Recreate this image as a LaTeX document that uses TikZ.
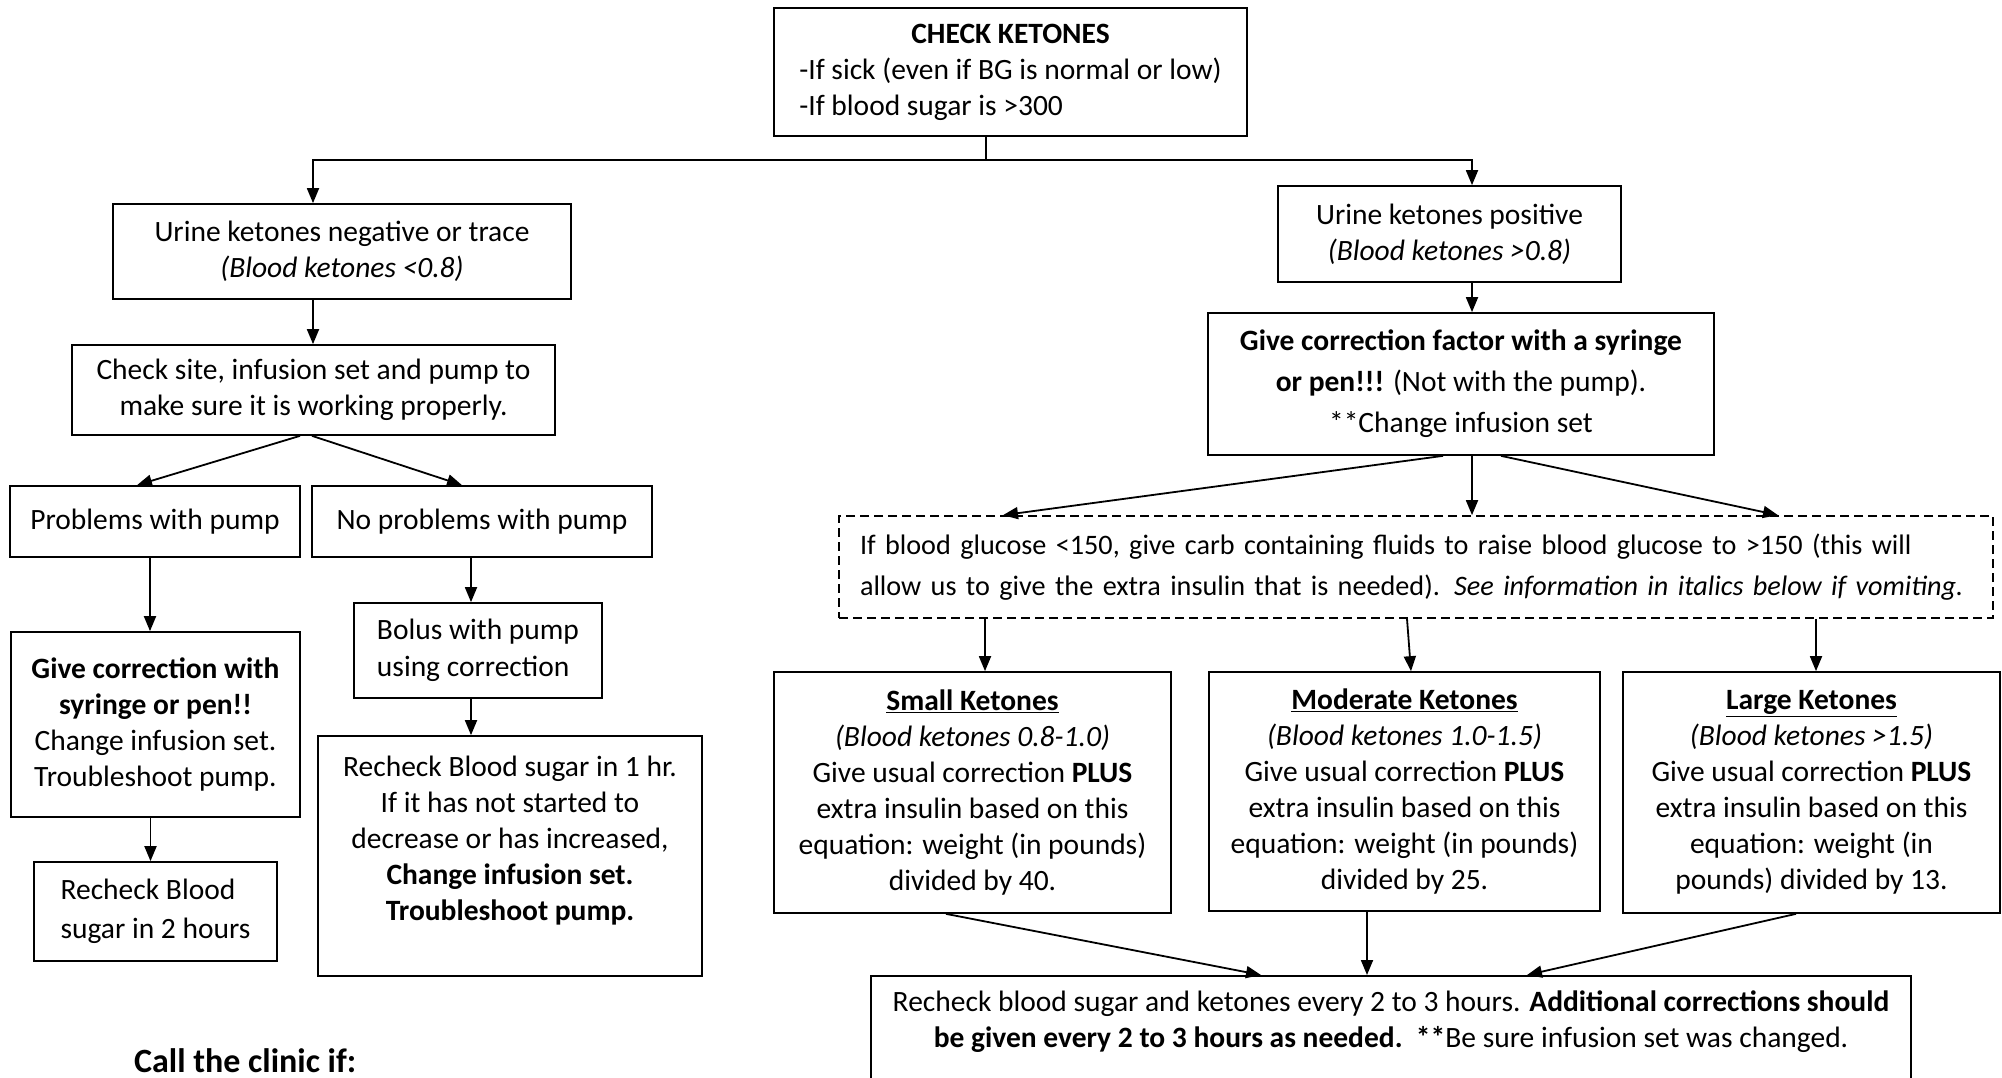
\documentclass[tikz,border=0pt]{standalone}
\usepackage{fontspec}
\setmainfont{Carlito}
\usetikzlibrary{arrows.meta}
\begin{document}
\begin{tikzpicture}[x=1pt,y=-1pt,
  box/.style={draw,line width=1.7pt,inner sep=0pt,align=center,
    font=\fontsize{29.5}{36}\selectfont},
  dbox/.style={box,dash pattern=on 9pt off 5pt},
  arr/.style={line width=1.8pt,-{Triangle[length=15pt,width=12pt]}},
  ln/.style={line width=1.8pt}]
\useasboundingbox (0,0) rectangle (2002,1077);
\clip (0,0) rectangle (2002,1077);

% left side
\node[box,minimum width=473pt,minimum height=128pt] (check) at (1010.5,72)
 {\begin{tabular}{@{}l@{}}\multicolumn{1}{@{}c@{}}{\textbf{CHECK KETONES}}\\-If sick (even if BG is normal or low)\\-If blood sugar is >300\end{tabular}};
\node[box,minimum width=458pt,minimum height=95pt] (urineneg) at (342,251.5)
 {Urine ketones negative or trace\\\textit{(Blood ketones <0.8)}};
\node[box,minimum width=483pt,minimum height=90pt] (checksite) at (313.5,390)
 {Check site, infusion set and pump to\\make sure it is working properly.};
\node[box,minimum width=290pt,minimum height=71pt] (probs) at (155,521.5) {Problems with pump};
\node[box,minimum width=340pt,minimum height=71pt] (noprobs) at (482,521.5) {No problems with pump};
\node[box,minimum width=289pt,minimum height=185pt] (givecorr) at (155.5,724.5)
 {\textbf{Give correction with}\\\textbf{syringe or pen!!}\\Change infusion set.\\Troubleshoot pump.};
\node[box,minimum width=243pt,minimum height=99pt,align=left,
  font=\fontsize{29.5}{39}\selectfont] (recheck2) at (155.5,911.5)
 {Recheck Blood\\sugar in 2 hours};
\node[box,minimum width=248pt,minimum height=95pt,align=left,
  font=\fontsize{29.5}{37}\selectfont] (bolus) at (478,650.5)
 {Bolus with pump\\using correction};
\node[box,minimum width=384pt,minimum height=240pt] (recheck1) at (510,856)
 {Recheck Blood sugar in 1 hr.\\If it has not started to\\decrease or has increased,\\\textbf{Change infusion set.}\\\textbf{Troubleshoot pump.}\\~};
\node[anchor=base west,inner sep=0pt,font=\fontsize{34}{40}\selectfont\bfseries] (clinic) at (134,1072)
 {Call the clinic if:};

% right side
\node[box,minimum width=343pt,minimum height=96pt] (urinepos) at (1449.5,234)
 {Urine ketones positive\\\textit{(Blood ketones >0.8)}};
\node[box,minimum width=506pt,minimum height=142pt,font=\fontsize{29.5}{41}\selectfont] (corrfactor) at (1461,384)
 {\textbf{Give correction factor with a syringe}\\\textbf{or pen!!!} (Not with the pump).\\**Change infusion set};
\node[dbox,minimum width=1154pt,minimum height=102pt,align=left,text width=1112pt,
  font=\fontsize{28.2}{41}\selectfont] (dashed) at (1416,567)
 {If blood glucose <150, give carb containing fluids to raise blood glucose to >150 (this will\\allow us to give the extra insulin that is needed). \textit{See information in italics below if vomiting.}};
\node[box,minimum width=397pt,minimum height=241pt] (small) at (972.5,792.5)
 {\underline{\textbf{Small Ketones}}\\\textit{(Blood ketones 0.8-1.0)}\\Give usual correction \textbf{PLUS}\\extra insulin based on this\\equation: weight (in pounds)\\divided by 40.};
\node[box,minimum width=391pt,minimum height=239pt] (moderate) at (1404.5,791.5)
 {\underline{\textbf{Moderate Ketones}}\\\textit{(Blood ketones 1.0-1.5)}\\Give usual correction \textbf{PLUS}\\extra insulin based on this\\equation: weight (in pounds)\\divided by 25.};
\node[box,minimum width=377pt,minimum height=241pt] (large) at (1811.5,792.5)
 {\underline{\textbf{Large Ketones}}\\\textit{(Blood ketones >1.5)}\\Give usual correction \textbf{PLUS}\\extra insulin based on this\\equation: weight (in\\pounds) divided by 13.};
\node[box,anchor=north,minimum width=1040pt,inner ysep=15pt] (bottom) at (1391,975)
 {Recheck blood sugar and ketones every 2 to 3 hours. \textbf{Additional corrections should}\\\textbf{be given every 2 to 3 hours as needed.\ \ **}Be sure infusion set was changed.\\~\\~};

% connectors
\coordinate (jl) at (313,160);
\coordinate (jr) at (1472,160);
\draw[arr] ([xshift=-24.5pt]check.south) |- (jl) -- (jl |- urineneg.north);
\draw[arr] ([xshift=-24.5pt]check.south) |- (jr) -- (jr |- urinepos.north);
\draw[arr] (jl |- urineneg.south) -- (jl |- checksite.north);
\draw[arr] ([xshift=-13.5pt]checksite.south) -- ([xshift=-18pt]probs.north);
\draw[arr] ([xshift=-1.5pt]checksite.south) -- ([xshift=-20pt]noprobs.north);
\draw[arr] ([xshift=-5pt]probs.south) -- ([xshift=-5pt]probs.south |- givecorr.north);
\draw[arr] ([xshift=-5pt]givecorr.south) -- ([xshift=-5pt]givecorr.south |- recheck2.north);
\draw[arr] ([xshift=-11pt]noprobs.south) -- ([xshift=-11pt]noprobs.south |- bolus.north);
\draw[arr] ([xshift=-7pt]bolus.south) -- ([xshift=-7pt]bolus.south |- recheck1.north);

\draw[arr] (jr |- urinepos.south) -- (jr |- corrfactor.north);
\draw[arr] ([xshift=-18pt]corrfactor.south) -- ([xshift=-413pt]dashed.north);
\draw[arr] ([xshift=11pt]corrfactor.south) -- ([xshift=11pt]corrfactor.south |- dashed.north);
\draw[arr] ([xshift=40pt]corrfactor.south) -- ([xshift=362pt]dashed.north);
\draw[arr] ([xshift=12.5pt]small.north |- dashed.south) -- ([xshift=12.5pt]small.north);
\draw[arr] ([xshift=2.5pt]moderate.north |- dashed.south) -- ([xshift=6.5pt]moderate.north);
\draw[arr] ([xshift=4.5pt]large.north |- dashed.south) -- ([xshift=4.5pt]large.north);
\draw[arr] ([xshift=-26.5pt]small.south) -- ([xshift=-130pt]bottom.north);
\draw[arr] ([xshift=-37.5pt]moderate.south) -- ([xshift=-37.5pt]moderate.south |- bottom.north);
\draw[arr] ([xshift=-15.5pt]large.south) -- ([xshift=136pt]bottom.north);
\end{tikzpicture}
\end{document}
